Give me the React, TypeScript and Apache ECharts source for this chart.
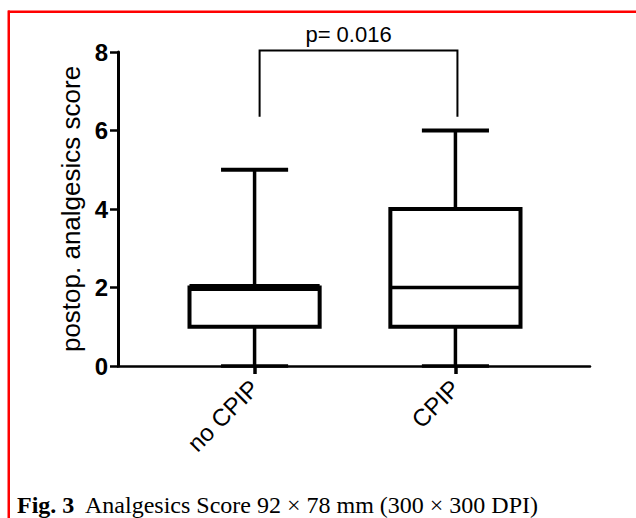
import React, { useEffect, useRef } from 'react';
import * as echarts from 'echarts';

const categories = ['no CPIP', 'CPIP'];
const categoryPositions = [0, 1];
const minValues = [0, 0];
const q1Values = [1, 1];
const medianValues = [2, 2];
const q3Values = [2, 4];
const maxValues = [5, 6];
const yTickInterval = 2;
const yMin = 0;
const yMax = 8;
const pLabel = 'p= 0.016';
const bracketX = [0.025, 1.01];
const bracketTop = 8.04;
const bracketBottom = 6.35;
const yAxisName = 'postop. analgesics score';
const captionBold = 'Fig. 3';
const captionText = 'Analgesics Score 92 × 78 mm (300 × 300 DPI)';

const SANS = 'Liberation Sans, Arial, Helvetica, sans-serif';
const SERIF = 'Liberation Serif, Times New Roman, serif';

export default function App() {
  const ref = useRef<HTMLDivElement>(null);
  useEffect(() => {
    if (!ref.current) return;
    const chart = echarts.init(ref.current, null, { renderer: 'svg' });
    const boxData = categoryPositions.map((x, i) => [
      x, minValues[i], q1Values[i], medianValues[i], q3Values[i], maxValues[i],
    ]);
    const halfBox = 0.324;
    const halfCap = 0.167;
    const option: any = {
      animation: false,
      backgroundColor: '#ffffff',
      grid: { left: 118, right: 46, top: 52, bottom: 152 },
      xAxis: {
        type: 'value',
        min: -0.68,
        max: 1.67,
        axisLine: { show: true, onZero: false, lineStyle: { color: '#000', width: 2.5 } },
        axisTick: {
          show: true,
          customValues: categoryPositions,
          length: 8,
          lineStyle: { color: '#000', width: 3.5 },
        },
        axisLabel: {
          customValues: categoryPositions,
          formatter: (v: number) => {
            const i = categoryPositions.indexOf(Math.round(v));
            return i >= 0 ? categories[i] : '';
          },
          rotate: 45,
          fontSize: 24,
          margin: 18,
          color: '#000',
          fontFamily: SANS,
        },
        splitLine: { show: false },
      },
      yAxis: {
        type: 'value',
        min: yMin,
        max: yMax,
        interval: yTickInterval,
        name: yAxisName,
        nameLocation: 'middle',
        nameGap: 32,
        nameTextStyle: { fontSize: 26, color: '#000', fontFamily: SANS },
        axisLine: { show: true, onZero: false, lineStyle: { color: '#000', width: 3 } },
        axisTick: { show: true, length: 8, lineStyle: { color: '#000', width: 2.5 } },
        axisLabel: { fontSize: 24, fontWeight: 'bold', margin: 10, color: '#000', fontFamily: SANS },
        splitLine: { show: false },
      },
      series: [
        {
          type: 'custom',
          data: boxData,
          encode: { x: 0, y: [1, 2, 3, 4, 5] },
          renderItem: (params: any, api: any) => {
            const x = api.value(0);
            const mn = api.value(1);
            const q1 = api.value(2);
            const md = api.value(3);
            const q3 = api.value(4);
            const mx = api.value(5);
            const c = (xx: number, yy: number) => api.coord([xx, yy]);
            const [cx, yMaxP] = c(x, mx);
            const [, yMinP] = c(x, mn);
            const [, yQ1] = c(x, q1);
            const [, yQ3] = c(x, q3);
            const [, yMd] = c(x, md);
            const [xl] = c(x - halfBox, q1);
            const [xr] = c(x + halfBox, q1);
            const [cl] = c(x - halfCap, q1);
            const [cr] = c(x + halfCap, q1);
            const st = (w: number) => ({ stroke: '#000', lineWidth: w, fill: 'none' });
            return {
              type: 'group',
              children: [
                { type: 'line', shape: { x1: cx, y1: yQ3, x2: cx, y2: yMaxP }, style: st(3.5) },
                { type: 'line', shape: { x1: cl, y1: yMaxP, x2: cr, y2: yMaxP }, style: st(4) },
                { type: 'line', shape: { x1: cx, y1: yQ1, x2: cx, y2: yMinP }, style: st(3.5) },
                { type: 'line', shape: { x1: cl, y1: yMinP, x2: cr, y2: yMinP }, style: st(3.5) },
                {
                  type: 'rect',
                  shape: { x: xl, y: yQ3, width: xr - xl, height: yQ1 - yQ3 },
                  style: { stroke: '#000', lineWidth: 4, fill: '#fff' },
                },
                { type: 'line', shape: { x1: xl, y1: yMd, x2: xr, y2: yMd }, style: st(md === q3 ? 7 : 3.5) },
              ],
            };
          },
          z: 3,
        },
        {
          type: 'custom',
          data: [[bracketX[0], bracketX[1], bracketTop, bracketBottom]],
          encode: { x: [0, 1], y: [2, 3] },
          renderItem: (params: any, api: any) => {
            const [x1, yt] = api.coord([api.value(0), api.value(2)]);
            const [x2, yb] = api.coord([api.value(1), api.value(3)]);
            return {
              type: 'group',
              children: [
                {
                  type: 'polyline',
                  shape: { points: [[x1, yb], [x1, yt], [x2, yt], [x2, yb]] },
                  style: { stroke: '#000', lineWidth: 2, fill: 'none' },
                },
                {
                  type: 'text',
                  style: {
                    text: pLabel,
                    x: (x1 + x2) / 2 - 10,
                    y: yt - 5,
                    align: 'center',
                    verticalAlign: 'bottom',
                    fontSize: 22,
                    fontFamily: SANS,
                    fill: '#000',
                  },
                },
              ],
            };
          },
          z: 4,
        },
      ],
      graphic: [
        { type: 'rect', shape: { x: 8, y: 10.5, width: 628, height: 2.5 }, style: { fill: '#ff0000' }, silent: true },
        { type: 'rect', shape: { x: 7.5, y: 10.5, width: 2.5, height: 508 }, style: { fill: '#ff0000' }, silent: true },
        {
          type: 'text',
          left: 17,
          top: 493,
          style: {
            text: `{b|${captionBold}}  ${captionText}`,
            fontSize: 24,
            fontFamily: SERIF,
            fill: '#000',
            rich: { b: { fontSize: 24, fontWeight: 'bold', fontFamily: SERIF, fill: '#000' } },
          },
        },
      ],
    };
    chart.setOption(option);
    return () => chart.dispose();
  }, []);
  return (
    <div
      ref={ref}
      style={{ position: 'absolute', left: 0, top: 0, width: 636, height: 518, background: '#fff' }}
    />
  );
}
